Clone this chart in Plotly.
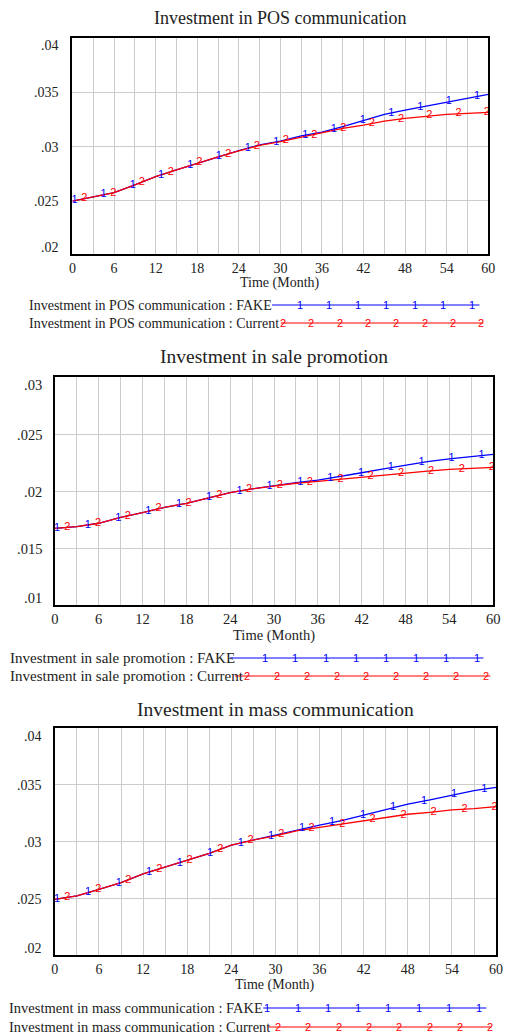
import numpy as np
import plotly.graph_objects as go

# ---- data (monthly simulation output, sampled every 3 months) ----
months = [0, 3, 6, 9, 12, 15, 18, 21, 24, 27, 30, 33, 36, 39, 42, 45, 48, 51, 54, 57, 60]

pos_fake = [0.0249, 0.0253, 0.02568, 0.0264, 0.02716, 0.02778, 0.0284, 0.0290, 0.02957, 0.0301,
            0.03046, 0.03093, 0.03128, 0.0318, 0.0324, 0.03293, 0.03333, 0.0337, 0.0341, 0.03441, 0.03479]
pos_current = [0.0249, 0.0253, 0.02568, 0.0264, 0.02716, 0.02778, 0.0284, 0.0290, 0.02955, 0.03005,
               0.0304, 0.0308, 0.03117, 0.03163, 0.03194, 0.03231, 0.03256, 0.03278, 0.03293, 0.03303, 0.03312]

sale_fake = [0.01673, 0.01687, 0.01717, 0.01769, 0.0181, 0.01857, 0.01892, 0.0194, 0.01985, 0.02018,
             0.02047, 0.02073, 0.02096, 0.02125, 0.0216, 0.02195, 0.02228, 0.02257, 0.02281, 0.02301, 0.02322]
sale_current = [0.01673, 0.01687, 0.01717, 0.01769, 0.0181, 0.01857, 0.01892, 0.0194, 0.01985, 0.02018,
                0.02045, 0.02068, 0.02085, 0.02103, 0.02125, 0.0214, 0.0216, 0.02175, 0.0219, 0.02199, 0.02208]

mass_fake = [0.02491, 0.0252, 0.02579, 0.02637, 0.02714, 0.02773, 0.02831, 0.02896, 0.02969, 0.03013,
             0.03057, 0.03107, 0.03145, 0.03183, 0.03233, 0.03284, 0.0333, 0.03366, 0.0341, 0.03448, 0.03477]
mass_current = [0.02491, 0.0252, 0.02579, 0.02637, 0.02714, 0.02773, 0.02831, 0.02896, 0.02969, 0.03013,
                0.0305, 0.03095, 0.03125, 0.03154, 0.0318, 0.03213, 0.0324, 0.03257, 0.03278, 0.03289, 0.03307]

# times at which the run-number glyphs are printed along each curve
fake_label_times = [0.3, 4.5, 8.7, 12.8, 17.0, 21.1, 25.3, 29.4, 33.6, 37.7, 41.9, 46.0, 50.2, 54.3, 58.4]
current_label_times = [1.7, 5.9, 10.0, 14.2, 18.3, 22.5, 26.6, 30.8, 34.9, 39.1, 43.2, 47.4, 51.5, 55.7, 59.8]

x_tick_vals = [0, 6, 12, 18, 24, 30, 36, 42, 48, 54, 60]
x_minor_vals = [3, 9, 15, 21, 27, 33, 39, 45, 51, 57]

panels = [
    dict(title="Investment in POS communication", var="Investment in POS communication",
         fake=pos_fake, current=pos_current,
         yrange=[0.02, 0.04], yticks=[0.02, 0.025, 0.03, 0.035, 0.04],
         ytext=[".02", ".025", ".03", ".035", ".04"]),
    dict(title="Investment in sale promotion", var="Investment in sale promotion",
         fake=sale_fake, current=sale_current,
         yrange=[0.01, 0.03], yticks=[0.01, 0.015, 0.02, 0.025, 0.03],
         ytext=[".01", ".015", ".02", ".025", ".03"]),
    dict(title="Investment in mass communication", var="Investment in mass communication",
         fake=mass_fake, current=mass_current,
         yrange=[0.02, 0.04], yticks=[0.02, 0.025, 0.03, 0.035, 0.04],
         ytext=[".02", ".025", ".03", ".035", ".04"]),
]

# ---- page layout (pixel positions on a 508 x 1035 page) ----
W, H = 508, 1035
SERIF = "Liberation Serif"
GLYPH = "Liberation Sans"
TXT = "#222222"
GRID = "#cccccc"
BLUE = "#0000ff"
RED = "#ff0000"

layout_px = [
    dict(box=(70, 495, 38, 254), title_y=18, title_size=18, tick_size=14, legend_size=14,
         xlab_y=283, leg_x=24, leg_y=(305, 323),
         fake_line=(274, 486), fake_glyphs=(303, 478, 7),
         cur_line=(283, 490), cur_glyphs=(285, 488, 8)),
    dict(box=(52, 500, 377, 605), title_y=357, title_size=19.5, tick_size=14.5, legend_size=15,
         xlab_y=635, leg_x=4, leg_y=(658, 676),
         fake_line=(231, 490), fake_glyphs=(267, 483, 8),
         cur_line=(236, 497), cur_glyphs=(248, 493, 9)),
    dict(box=(52, 503, 728, 955), title_y=709, title_size=19.5, tick_size=14, legend_size=14.5,
         xlab_y=985, leg_x=3, leg_y=(1008, 1027),
         fake_line=(265, 493), fake_glyphs=(269, 486, 8),
         cur_line=(270, 498), cur_glyphs=(280, 497, 8)),
]


def px(x):
    return x / W


def py(y):
    return 1 - y / H


fig = go.Figure()
annotations = []
shapes = []
layout = dict(
    width=W, height=H,
    margin=dict(l=0, r=0, t=0, b=0),
    paper_bgcolor="white", plot_bgcolor="white",
    showlegend=False,
)

for i, (p, L) in enumerate(zip(panels, layout_px)):
    n = "" if i == 0 else str(i + 1)
    xa, ya = "x" + n, "y" + n
    x0, x1, y0, y1 = L["box"]

    layout["xaxis" + n] = dict(
        domain=[px(x0), px(x1)], anchor=ya, range=[0, 60],
        tickmode="array", tickvals=x_tick_vals, ticktext=[str(v) for v in x_tick_vals],
        ticks="", showgrid=True, gridcolor=GRID, gridwidth=1,
        minor=dict(tickmode="array", tickvals=x_minor_vals, showgrid=True, gridcolor=GRID, gridwidth=1),
        showline=True, linecolor="black", linewidth=2, mirror=True, zeroline=False,
        tickfont=dict(family=SERIF, size=L["tick_size"], color=TXT),
    )
    layout["yaxis" + n] = dict(
        domain=[py(y1), py(y0)], anchor=xa, range=p["yrange"],
        tickmode="array", tickvals=p["yticks"], showticklabels=False,
        ticks="", showgrid=True, gridcolor=GRID, gridwidth=1,
        showline=True, linecolor="black", linewidth=2, mirror=True, zeroline=False,
    )

    # y tick labels: end labels are tucked inside the frame
    for k, (v, t) in enumerate(zip(p["yticks"], p["ytext"])):
        shift = 7 if k == 0 else (-8 if k == len(p["yticks"]) - 1 else -1)
        annotations.append(dict(
            xref=xa + " domain", x=0, xanchor="right", xshift=-11,
            yref=ya, y=v, yanchor="middle", yshift=shift,
            text=t, showarrow=False,
            font=dict(family=SERIF, size=L["tick_size"], color=TXT)))

    # curves
    fig.add_trace(go.Scatter(x=months, y=p["fake"], mode="lines", xaxis=xa, yaxis=ya,
                             line=dict(color=BLUE, width=1.3), hoverinfo="skip"))
    fig.add_trace(go.Scatter(x=months, y=p["current"], mode="lines", xaxis=xa, yaxis=ya,
                             line=dict(color=RED, width=1.3), hoverinfo="skip"))
    fig.add_trace(go.Scatter(x=fake_label_times,
                             y=np.interp(fake_label_times, months, p["fake"]),
                             mode="text", text=["1"] * len(fake_label_times), xaxis=xa, yaxis=ya,
                             textfont=dict(family=GLYPH, size=11, color=BLUE), hoverinfo="skip"))
    fig.add_trace(go.Scatter(x=current_label_times,
                             y=np.interp(current_label_times, months, p["current"]),
                             mode="text", text=["2"] * len(current_label_times), xaxis=xa, yaxis=ya,
                             textfont=dict(family=GLYPH, size=11, color=RED), hoverinfo="skip"))

    # title and x axis caption
    annotations.append(dict(xref="paper", yref="paper", x=px((x0 + x1) / 2), y=py(L["title_y"]),
                            xanchor="center", yanchor="middle", showarrow=False, text=p["title"],
                            font=dict(family=SERIF, size=L["title_size"], color=TXT)))
    annotations.append(dict(xref="paper", yref="paper", x=px((x0 + x1) / 2), y=py(L["xlab_y"]),
                            xanchor="center", yanchor="middle", showarrow=False, text="Time (Month)",
                            font=dict(family=SERIF, size=L["tick_size"], color=TXT)))

    # legend rows
    rows = [(p["var"] + " : FAKE", BLUE, "1", L["fake_line"], L["fake_glyphs"], L["leg_y"][0]),
            (p["var"] + " : Current", RED, "2", L["cur_line"], L["cur_glyphs"], L["leg_y"][1])]
    for text, color, glyph, (lx0, lx1), (g0, g1, gn), ly in rows:
        annotations.append(dict(xref="paper", yref="paper", x=px(L["leg_x"]), y=py(ly),
                                xanchor="left", yanchor="middle", showarrow=False, text=text,
                                font=dict(family=SERIF, size=L["legend_size"], color=TXT)))
        shapes.append(dict(type="line", xref="paper", yref="paper",
                           x0=px(lx0), x1=px(lx1), y0=py(ly), y1=py(ly),
                           line=dict(color=color, width=1.2)))
        for gx in np.linspace(g0, g1, gn):
            annotations.append(dict(xref="paper", yref="paper", x=px(gx), y=py(ly),
                                    xanchor="center", yanchor="middle", showarrow=False, text=glyph,
                                    font=dict(family=GLYPH, size=11, color=color)))

layout["annotations"] = annotations
layout["shapes"] = shapes
fig.update_layout(**layout)
fig.write_html("out.html")
